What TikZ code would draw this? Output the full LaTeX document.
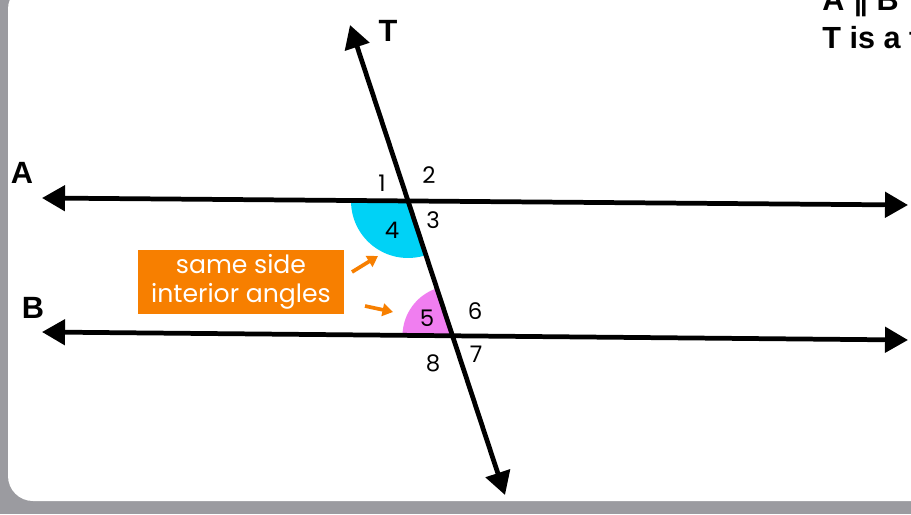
\documentclass[tikz,border=0pt]{standalone}
\usepackage{fontspec}
\setmainfont{Liberation Sans}
\newfontfamily\popfont{Poppins}
\newfontfamily\dejafont{DejaVu Sans}
\usetikzlibrary{arrows.meta}
\definecolor{framegray}{HTML}{9B9BA0}
\definecolor{boxorange}{HTML}{F77F00}
\definecolor{skyblue}{HTML}{00D2F6}
\definecolor{pinkviolet}{HTML}{F07EF0}

\begin{document}
\begin{tikzpicture}[x=0.02cm, y=0.02cm, >={Triangle[length=0.46cm,width=0.5cm]},
        line/.style={line width=2.7pt, <->},
        lbl/.style={font=\fontsize{17.5}{20}\selectfont\bfseries},
        num/.style={font=\popfont\fontsize{13}{15}\selectfont},
        notebox/.style={fill=boxorange, text=white, align=center, inner sep=0pt,
            minimum width=4.12cm, minimum height=1.28cm, font=\popfont\fontsize{14.3}{16.5}\selectfont},
        hint/.style={draw=boxorange, line width=2.1pt, -{Triangle[length=0.21cm,width=0.25cm]}},
        toptext/.style={anchor=base west, inner sep=0pt, font=\fontsize{17.4}{20}\selectfont\bfseries}]
        \useasboundingbox (0,0) rectangle (911,514);
        \clip (0,0) rectangle (911,514);
        \fill[framegray] (0,0) rectangle (911,514);
        \fill[white, rounded corners=0.5cm] (8,13) rectangle (940,530);
        \coordinate (A1) at (42,316); \coordinate (A2) at (908,309);
        \coordinate (B1) at (42,182); \coordinate (B2) at (908,174);
        \coordinate (T1) at (350,489); \coordinate (T2) at (505,19);
        \coordinate (PA) at (408,313); \coordinate (PB) at (452.5,178.2);
        \fill[skyblue] (PA) -- ++(179.5:1.14cm) arc[start angle=179.5, end angle=288.3, radius=1.14cm] -- cycle;
        \fill[pinkviolet] (PB) -- ++(108.3:1cm) arc[start angle=108.3, end angle=179.5, radius=1cm] -- cycle;
        \draw[line] (A1) -- (A2);
        \draw[line] (B1) -- (B2);
        \draw[line] (T1) -- (T2);
        \node[lbl] (labT) at (388,483) {T};
        \node[lbl] (labA) at (22,341) {A};
        \node[lbl] (labB) at (33,206) {B};
        \foreach \n/\x/\y in {1/382/331, 2/429/339, 3/433/294, 4/392/284, 5/427/196, 6/475/203, 7/476/160, 8/433/151}
            {
                \node[num] (ang\n) at (\x,\y) {\n};
            }
        \node[notebox] (note) at (241,232) {same side\\interior angles};
        \coordinate (h1s) at (352,242); \coordinate (h1e) at (378,258);
        \coordinate (h2s) at (365,208); \coordinate (h2e) at (393,202);
        \draw[hint] (h1s) -- (h1e);
        \draw[hint] (h2s) -- (h2e);
        \node[toptext] (par) at (822,503) {A {\dejafont\bfseries ∥} B};
        \node[toptext] (trans) at (822,465) {T is a t};
    \end{tikzpicture}
\end{document}
